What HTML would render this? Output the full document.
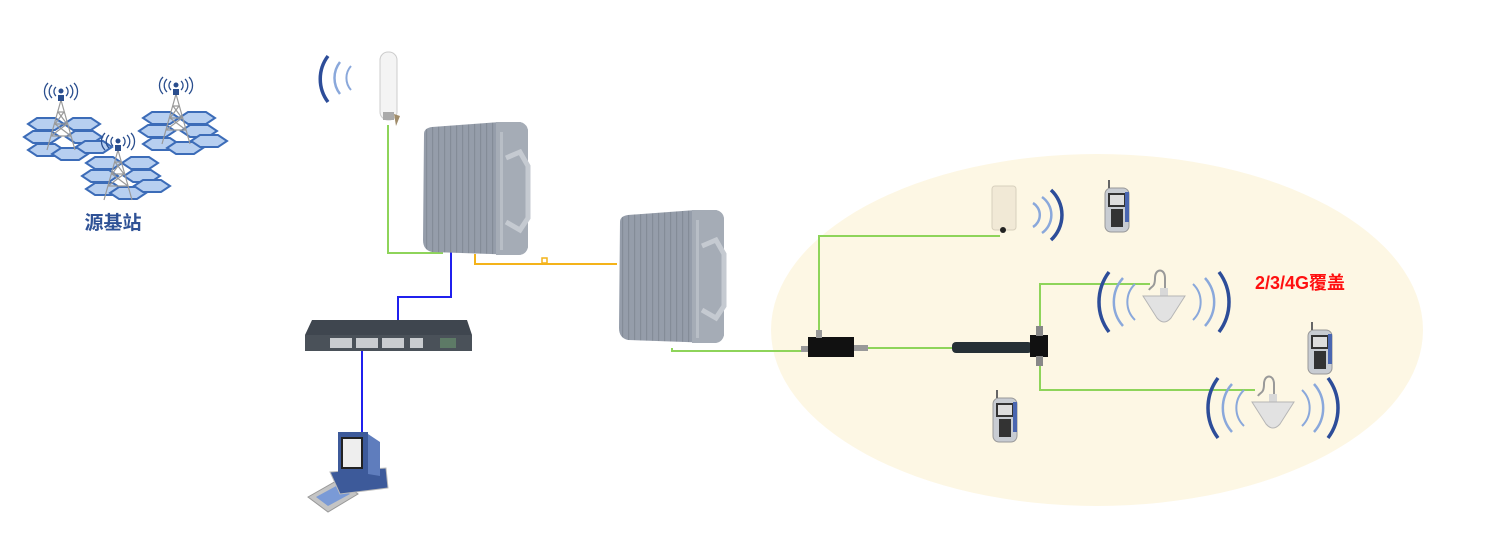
<!DOCTYPE html>
<html><head><meta charset="utf-8"><style>
html,body{margin:0;padding:0;background:#fff;}
svg{display:block;}
</style></head><body>
<svg width="1487" height="544" viewBox="0 0 1487 544" xmlns="http://www.w3.org/2000/svg">
<defs>
  <pattern id="fins" width="6" height="10" patternUnits="userSpaceOnUse">
    <rect width="6" height="10" fill="#959daa"/><rect width="1.2" height="10" fill="#848c98"/>
  </pattern>
  <g id="hex">
    <polygon points="0,0 9,-6 27,-6 36,0 27,6 9,6" fill="#b7cff0" stroke="#3c6cb8" stroke-width="2"/>
  </g>
  <g id="cluster">
    <use href="#hex" x="-32" y="-18"/><use href="#hex" x="4" y="-18"/>
    <use href="#hex" x="-36" y="-5"/><use href="#hex" x="6" y="-5"/>
    <use href="#hex" x="-32" y="8"/><use href="#hex" x="-8" y="12"/><use href="#hex" x="16" y="5"/>
  </g>
  <g id="tower">
    <path d="M0,0 L-14,50 M0,0 L14,50 M-3,12 L3,12 M-6,24 L6,24 M-10,36 L10,36 M-3,12 L6,24 L-10,36 M3,12 L-6,24 L10,36" stroke="#999" stroke-width="1.2" fill="none"/>
    <rect x="-3" y="-5" width="6" height="6" fill="#2a4e8e"/>
    <circle cx="0" cy="-9" r="2.5" fill="#2a4e8e"/>
    <path d="M-5,-13 a6,6 0 0 0 0,9 M5,-13 a6,6 0 0 1 0,9 M-9,-15 a9,9 0 0 0 0,13 M9,-15 a9,9 0 0 1 0,13 M-13,-17 a12,12 0 0 0 0,17 M13,-17 a12,12 0 0 1 0,17" stroke="#2a4e8e" stroke-width="1.3" fill="none"/>
  </g>
  <g id="phone">
    <rect x="-12" y="-20" width="24" height="44" rx="6" fill="#c8ccd2" stroke="#999"/>
    <rect x="-8" y="-14" width="16" height="12" fill="#ddd" stroke="#333" stroke-width="2"/>
    <rect x="8" y="-16" width="4" height="30" fill="#4a66b0"/>
    <rect x="-6" y="1" width="12" height="18" fill="#333"/>
    <line x1="-8" y1="-20" x2="-8" y2="-28" stroke="#666" stroke-width="2"/>
  </g>
  <g id="ceil">
    <path d="M-14,0 C-12,-4 -8,-2 -8,-12 C-8,-22 2,-22 2,-12 L2,-2" stroke="#999" stroke-width="2" fill="none"/>
    <rect x="-3" y="-2" width="8" height="8" fill="#d8d8d8"/>
    <path d="M-20,6 L22,6 L8,28 Q1,36 -6,28 Z" fill="#e2e2e2" stroke="#b5b5b5"/>
    <path d="M-28,-6 a25,25 0 0 0 0,36 M30,-6 a25,25 0 0 1 0,36" stroke="#8aa8db" stroke-width="2" fill="none"/>
    <path d="M-40,-12 a36,36 0 0 0 0,48 M42,-12 a36,36 0 0 1 0,48" stroke="#8aa8db" stroke-width="2.5" fill="none"/>
    <path d="M-54,-18 a50,50 0 0 0 0,60 M56,-18 a50,50 0 0 1 0,60" stroke="#2d4d99" stroke-width="3.5" fill="none"/>
  </g>
  <g id="repeater">
    <path d="M4,12 Q4,6 12,5 L80,0 L100,0 Q108,2 108,10 L108,125 Q106,133 98,133 L12,130 Q3,128 3,118 Z" fill="url(#fins)"/>
    <path d="M76,0 L100,0 Q108,2 108,10 L108,125 Q106,133 98,133 L76,133 Z" fill="#a5acb6"/>
    <path d="M86,36 L100,30 L108,44 L108,96 L100,108 L86,100" stroke="#c5cad1" stroke-width="5" fill="none"/>
    <rect x="80" y="10" width="3" height="118" fill="#b8bec6"/>
  </g>
</defs>

<ellipse cx="1097" cy="330" rx="326" ry="176" fill="#fdf7e4"/>

<use href="#cluster" x="60" y="142"/>
<use href="#cluster" x="175" y="136"/>
<use href="#cluster" x="118" y="181"/>
<use href="#tower" x="61" y="100"/>
<use href="#tower" x="176" y="94"/>
<use href="#tower" x="118" y="150"/>
<text x="113" y="229" text-anchor="middle" font-family="'Liberation Sans','Noto Sans CJK SC',sans-serif" font-size="19" font-weight="bold" fill="#2f5296">源基站</text>

<path d="M328,56 a38,38 0 0 0 0,46" stroke="#2d4d99" stroke-width="3.5" fill="none"/>
<path d="M340,62 a26,26 0 0 0 0,32" stroke="#8aa8db" stroke-width="2.5" fill="none"/>
<path d="M351,66 a18,18 0 0 0 0,24" stroke="#8aa8db" stroke-width="2" fill="none"/>
<rect x="380" y="52" width="17" height="68" rx="8" fill="#f4f4f4" stroke="#ccc"/>
<rect x="383" y="112" width="11" height="8" fill="#aaa"/>
<polygon points="394,114 400,116 396,126" fill="#a08c6a"/>

<polyline points="388,125 388,253 443,253" stroke="#8ed45a" stroke-width="2" fill="none"/>
<polyline points="451,250 451,297 398,297 398,334" stroke="#2020ee" stroke-width="2" fill="none"/>
<polyline points="362,350 362,440" stroke="#2020ee" stroke-width="2" fill="none"/>
<polyline points="475,254 475,264 617,264" stroke="#f4b31a" stroke-width="2" fill="none"/>
<rect x="542" y="258" width="5" height="5" fill="none" stroke="#f4b31a" stroke-width="1.5"/>
<polyline points="672,348 672,351 810,351" stroke="#8ed45a" stroke-width="2" fill="none"/>
<line x1="868" y1="348" x2="952" y2="348" stroke="#8ed45a" stroke-width="2"/>
<polyline points="819,338 819,236 1000,236" stroke="#8ed45a" stroke-width="2" fill="none"/>
<polyline points="1040,332 1040,284 1150,284" stroke="#8ed45a" stroke-width="2" fill="none"/>
<polyline points="1040,362 1040,390 1255,390" stroke="#8ed45a" stroke-width="2" fill="none"/>

<use href="#repeater" x="420" y="122"/>
<use href="#repeater" x="616" y="210"/>

<path d="M312,320 L467,320 L472,335 L472,351 L305,351 L305,335 Z" fill="#3f464f"/>
<rect x="305" y="335" width="167" height="16" fill="#4a5159"/>
<g fill="#c9ccd0">
<rect x="330" y="338" width="22" height="10"/><rect x="356" y="338" width="22" height="10"/><rect x="382" y="338" width="22" height="10"/><rect x="410" y="338" width="13" height="10"/>
</g>
<rect x="440" y="338" width="16" height="10" fill="#5d7a66"/>

<!-- computer -->
<polygon points="308,497 338,480 358,494 328,512" fill="#c4c4c4" stroke="#999"/>
<polygon points="316,497 338,485 350,494 328,506" fill="#7a9ad6"/>
<polygon points="330,472 386,468 388,488 340,494" fill="#3d5a9a" stroke="#bbb"/>
<rect x="338" y="432" width="30" height="42" fill="#3d5a9a"/>
<rect x="342" y="438" width="20" height="30" fill="#eee" stroke="#222" stroke-width="2"/>
<polygon points="368,434 380,442 380,476 368,474" fill="#5f7dbd"/>

<!-- panel antenna -->
<rect x="992" y="186" width="24" height="44" rx="3" fill="#f1e9d6" stroke="#d8d0bd"/>
<circle cx="1003" cy="230" r="3" fill="#222"/>
<path d="M1033,203 a14,14 0 0 1 0,24 M1042,197 a22,22 0 0 1 0,36" stroke="#8aa8db" stroke-width="2.5" fill="none"/>
<path d="M1051,190 a34,34 0 0 1 0,50" stroke="#2d4d99" stroke-width="3.5" fill="none"/>

<rect x="801" y="346" width="8" height="6" fill="#999"/>
<rect x="808" y="337" width="46" height="20" fill="#111"/>
<rect x="854" y="345" width="14" height="6" fill="#999"/>
<rect x="816" y="330" width="6" height="8" fill="#999"/>
<rect x="952" y="342" width="80" height="11" rx="4" fill="#263035"/>
<rect x="1030" y="335" width="18" height="22" fill="#111"/>
<rect x="1036" y="326" width="7" height="10" fill="#888"/>
<rect x="1036" y="356" width="7" height="10" fill="#888"/>

<use href="#ceil" x="1163" y="290"/>
<use href="#ceil" x="1272" y="396"/>

<use href="#phone" x="1117" y="208"/>
<use href="#phone" x="1320" y="350"/>
<use href="#phone" x="1005" y="418"/>

<text x="1255" y="289" font-family="'Liberation Sans','Noto Sans CJK SC',sans-serif" font-size="18" font-weight="bold" fill="#ff1010">2/3/4G覆盖</text>
</svg>
</body></html>
